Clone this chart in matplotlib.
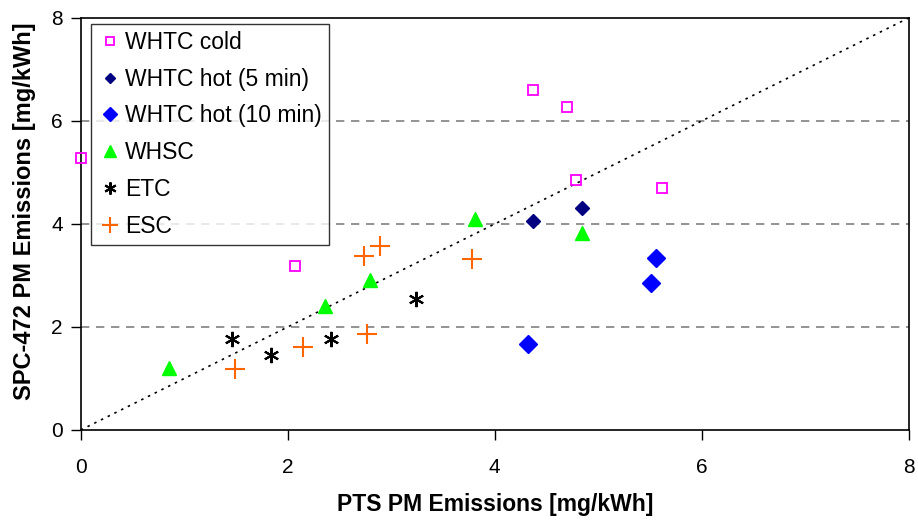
import numpy as np
import matplotlib.pyplot as plt

plt.rcParams['font.family'] = ['Liberation Sans', 'DejaVu Sans']

# PTS (x) vs SPC-472 (y) PM emissions, mg/kWh
whtc_cold_x = [0.0, 2.07, 4.37, 4.70, 4.78, 5.62]
whtc_cold_y = [5.28, 3.18, 6.60, 6.27, 4.85, 4.70]
whtc_hot5_x = [4.37, 4.84]
whtc_hot5_y = [4.06, 4.31]
whtc_hot10_x = [4.32, 5.56, 5.51]
whtc_hot10_y = [1.67, 3.34, 2.85]
whsc_x = [0.85, 2.36, 2.79, 3.81, 4.84]
whsc_y = [1.20, 2.41, 2.91, 4.10, 3.83]
etc_x = [1.46, 1.84, 2.42, 3.24]
etc_y = [1.77, 1.46, 1.77, 2.54]
esc_x = [1.49, 2.15, 2.77, 2.74, 2.89, 3.78]
esc_y = [1.18, 1.61, 1.86, 3.38, 3.57, 3.32]

fig = plt.figure(figsize=(9.18, 5.25), dpi=100)
ax = fig.add_axes([0.088, 0.181, 0.902, 0.785])

# grid lines and 1:1 line
for yv in [2, 4, 6]:
    ax.axhline(yv, color='#808080', linestyle=(0, (5, 4)), linewidth=1.2, zorder=1)
ax.plot([0, 8], [0, 8], color='black', linestyle=(0, (1.5, 3)), linewidth=1.2, zorder=2)

ax.plot(whtc_cold_x, whtc_cold_y, 's', mfc='none', mec='#ff00ff', mew=1.3, ms=7,
        linestyle='none', label='WHTC cold', zorder=3, clip_on=False)
ax.plot(whtc_hot5_x, whtc_hot5_y, 'D', color='#000080', ms=7, linestyle='none',
        label='WHTC hot (5 min)', zorder=3)
ax.plot(whtc_hot10_x, whtc_hot10_y, 'D', color='#0000ff', ms=9, linestyle='none',
        label='WHTC hot (10 min)', zorder=3)
ax.plot(whsc_x, whsc_y, '^', color='#00ff00', ms=10, linestyle='none',
        label='WHSC', zorder=3)
ax.plot(etc_x, etc_y, marker=(6, 2, 0), color='black', mew=1.5, ms=11, linestyle='none',
        label='ETC', zorder=3)
ax.plot(esc_x, esc_y, '+', color='#ff6600', mew=1.5, ms=14, linestyle='none',
        label='ESC', zorder=3)

ax.set_xlim(0, 8)
ax.set_ylim(0, 8)
ax.set_xticks([0, 2, 4, 6, 8])
ax.set_yticks([0, 2, 4, 6, 8])
ax.tick_params(labelsize=15, length=7, width=1)
ax.tick_params(axis='x', pad=13)
ax.tick_params(axis='y', pad=6)
for s in ax.spines.values():
    s.set_linewidth(1.2)

ax.set_xlabel('PTS PM Emissions [mg/kWh]', fontsize=16.5, fontweight='bold', labelpad=12)
ax.set_ylabel('SPC-472 PM Emissions [mg/kWh]', fontsize=17, fontweight='bold')
ax.yaxis.set_label_coords(-0.054, 0.53)

leg = ax.legend(loc='upper left', bbox_to_anchor=(0.012, 0.985), fontsize=16.5,
                frameon=True, fancybox=False, edgecolor='black', borderpad=0.3,
                labelspacing=0.6, handletextpad=0.1, handlelength=1.1,
                borderaxespad=0.0, markerscale=0.8)
leg.get_frame().set_linewidth(1.0)

fig.savefig('out.png', dpi=100)
